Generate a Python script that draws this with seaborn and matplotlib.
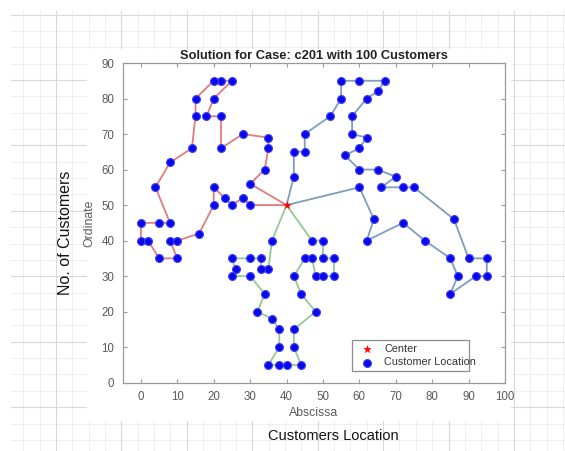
import numpy as np
import pandas as pd
import matplotlib
matplotlib.use("Agg")
import matplotlib.pyplot as plt
from matplotlib.patches import Rectangle
import seaborn as sns

# Depot
center_x = 40
center_y = 50

# Vehicle routes (customer visiting order, depot excluded)
route1_x = [30, 34, 35, 35, 28, 22, 22, 18, 20, 25, 22, 20, 15, 15, 14, 8, 4, 8, 5, 0, 0,
            2, 5, 10, 8, 10, 16, 20, 20, 23, 25, 28, 30]
route1_y = [56, 60, 66, 69, 70, 66, 75, 75, 80, 85, 85, 85, 80, 75, 66, 62, 55, 45, 45, 45, 40,
            40, 35, 35, 40, 40, 42, 50, 55, 52, 50, 52, 50]

route2_x = [42, 42, 45, 45, 52, 55, 55, 60, 67, 65, 62, 58, 58, 62, 60, 56, 60, 65, 70, 66,
            72, 75, 86, 90, 95, 95, 92, 85, 87, 85, 78, 72, 62, 64, 60]
route2_y = [58, 65, 65, 70, 75, 80, 85, 85, 85, 82, 80, 75, 70, 69, 66, 64, 60, 60, 58, 55,
            55, 55, 46, 35, 35, 30, 30, 25, 30, 35, 40, 45, 40, 46, 55]

route3_x = [36, 35, 33, 33, 30, 25, 26, 25, 30, 34, 32, 36, 38, 38, 35, 38, 40, 44, 42, 42,
            48, 44, 42, 45, 47, 48, 50, 53, 53, 50, 50, 47]
route3_y = [40, 32, 32, 35, 35, 35, 32, 30, 30, 25, 20, 18, 15, 10, 5, 5, 5, 5, 10, 15,
            20, 25, 30, 35, 35, 30, 30, 30, 35, 35, 40, 40]

route_colors = ["#e27b7b", "#7d9dbd", "#93c993"]

x_ticks = list(range(0, 101, 10))
y_ticks = list(range(0, 91, 10))

W, H = 565, 451
fig = plt.figure(figsize=(W / 100, H / 100), dpi=100)
fig.patch.set_facecolor("white")

# Page grid behind the figure
bg = fig.add_axes([0, 0, 1, 1])
bg.set_xlim(0, W)
bg.set_ylim(H, 0)
bg.axis("off")
step = 16.36
x0, y0 = 55.9, 14.5
k = -2
while x0 + k * step < W:
    xv = x0 + k * step
    major = (k % 4 == 0)
    bg.plot([xv, xv], [11, H], color="#d9d9d9" if major else "#efefef",
            lw=0.8 if major else 0.7, zorder=1 if major else 0)
    k += 1
k = 0
while y0 + k * step < H:
    yv = y0 + k * step
    major = (k % 4 == 0)
    bg.plot([11, W], [yv, yv], color="#d9d9d9" if major else "#efefef",
            lw=0.8 if major else 0.7, zorder=1 if major else 0)
    k += 1
bg.add_patch(Rectangle((87, 49), 424, 372, facecolor="white", edgecolor="none", zorder=5))
bg.text(66, 233, "No. of Customers", rotation=90, ha="center", va="center",
        fontsize=11.5, color="#151515", family="Liberation Sans", zorder=6)
bg.text(333, 436, "Customers Location", ha="center", va="center",
        fontsize=10.5, color="#151515", family="Liberation Sans", zorder=6)

# Main plot
ax = fig.add_axes([122.7 / W, 1 - 382.7 / H, (505 - 122.7) / W, (382.7 - 63) / H])
ax.set_facecolor("white")

routes = [(route1_x, route1_y), (route2_x, route2_y), (route3_x, route3_y)]
for (rx, ry), col in zip(routes, route_colors):
    df = pd.DataFrame({
        "x": [center_x] + rx + [center_x],
        "y": [center_y] + ry + [center_y],
    })
    sns.lineplot(data=df, x="x", y="y", sort=False, estimator=None, color=col,
                 lw=1.3, ax=ax, legend=False, zorder=2)

sns.scatterplot(x=[center_x], y=[center_y], marker="*", color="red", s=32,
                edgecolor="red", linewidth=0.3, label="Center", ax=ax, zorder=4)
cust = pd.DataFrame({"x": route1_x + route2_x + route3_x,
                     "y": route1_y + route2_y + route3_y})
sns.scatterplot(data=cust, x="x", y="y", color="#0808e8", edgecolor="#3c3cff",
                linewidth=0.8, s=32, label="Customer Location", ax=ax, zorder=3)

ax.set_xlim(-5, 100)
ax.set_ylim(0, 90)
ax.set_xticks(x_ticks)
ax.set_yticks(y_ticks)
for sp in ax.spines.values():
    sp.set_color("#9a9a9a")
    sp.set_linewidth(0.9)
ax.tick_params(direction="in", length=3, width=0.8, color="#9a9a9a",
               top=True, right=True, labelsize=8.3, labelcolor="#5a5a5a", pad=6)
for lab in ax.get_xticklabels() + ax.get_yticklabels():
    lab.set_family("Liberation Sans")

ax.set_xlabel("Abscissa", fontsize=8.8, color="#5a5a5a", family="Liberation Sans", labelpad=3)
ax.set_ylabel("Ordinate", fontsize=8.8, color="#5a5a5a", family="Liberation Sans", labelpad=4)
ax.set_title("Solution for Case: c201 with 100 Customers", fontsize=9.3, fontweight="bold",
             color="#222222", family="Liberation Sans", pad=3)

leg = ax.legend(loc="lower left", bbox_to_anchor=(0.586, 0.019, 0.333, 0.10),
                mode="expand", fancybox=False, framealpha=1, edgecolor="#8c8c8c",
                borderpad=0.35, labelspacing=0.35, handletextpad=0.6,
                prop={"family": "Liberation Sans", "size": 7.8})
leg.get_frame().set_linewidth(0.9)
for t in leg.get_texts():
    t.set_color("#333333")

fig.savefig("out.png", dpi=100, facecolor="white")
